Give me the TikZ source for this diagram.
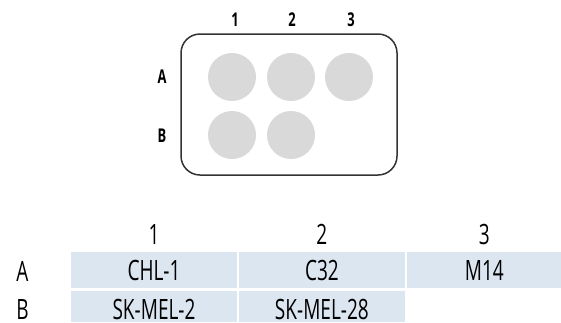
\documentclass[tikz,border=0pt]{standalone}
\usepackage{fontspec}
\setmainfont{Open Sans}[FakeStretch=0.68]
\usepackage{tikz}
\usetikzlibrary{chains,positioning}
\definecolor{cellblue}{HTML}{DCE6F1}
\definecolor{wellgray}{HTML}{D9D9D9}
\definecolor{platerim}{HTML}{333333}
\tikzstyle{plate}=[draw=platerim,line width=1.5pt,rounded corners=19pt]
\tikzstyle{well}=[circle,fill=wellgray,minimum size=48pt,inner sep=0pt]
\tikzstyle{platelabel}=[font=\bfseries\fontsize{19}{19}\selectfont]
\tikzstyle{cell}=[fill=cellblue,minimum width=166pt,minimum height=36pt,inner sep=0pt,font=\fontsize{28}{28}\selectfont]
\tikzstyle{lastcol}=[minimum width=155pt]
\tikzstyle{lastrow}=[minimum height=31pt,text height=25pt,text depth=0pt]
\tikzstyle{hdr}=[inner sep=0pt,font=\fontsize{28}{28}\selectfont]

\begin{document}
\begin{tikzpicture}[x=1pt,y=-1pt]
\useasboundingbox (0,0) rectangle (561,322);
\clip (0,0) rectangle (561,322);
% plate
\draw[plate] (181,34) rectangle (397,175);
\node[well] (wA1) at (232,77) {};
\node[well] (wA2) at (291,77) {};
\node[well] (wA3) at (349,77) {};
\node[well] (wB1) at (232,135) {};
\node[well] (wB2) at (291,135) {};
\node[platelabel] (p1) at (235,20) {1};
\node[platelabel] (p2) at (292,20) {2};
\node[platelabel] (p3) at (351,20) {3};
\node[platelabel] (pA) at (162,77) {A};
\node[platelabel] (pB) at (162,136) {B};
% table
\begin{scope}[start chain=A going right, node distance=1.5pt]
    \node [on chain=A,cell] (cA1) at (154,270) {CHL-1};
    \node [on chain=A,cell] (cA2) {C32};
    \node [on chain=A,cell,lastcol] (cA3) {M14};
\end{scope}
\begin{scope}[start chain=B going right, node distance=1.5pt]
    \node [on chain=B,cell,lastrow] (cB1) at (154,306.5) {SK-MEL-2};
    \node [on chain=B,cell,lastrow] (cB2) {SK-MEL-28};
\end{scope}
\node[hdr] (h1) at (cA1 |- 0,234.5) {1};
\node[hdr] (h2) at (cA2 |- 0,234.5) {2};
\node[hdr] (h3) at (cA3 |- 0,234.5) {3};
\node[hdr] (rA) at (22.5,271) {A};
\node[hdr] (rB) at (22.5,309.5) {B};
\end{tikzpicture}
\end{document}
